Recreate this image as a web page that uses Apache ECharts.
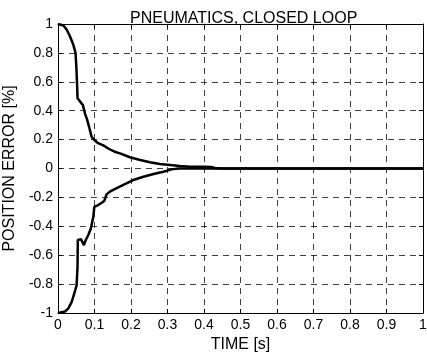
<!DOCTYPE html>
<html><head><meta charset="utf-8">
<script src="https://cdn.jsdelivr.net/npm/echarts@6/dist/echarts.min.js"></script>
<style>html,body{margin:0;padding:0;background:#fff}#c{width:427px;height:355px}</style>
</head><body><div id="c"></div>
<script>
var titleText = 'PNEUMATICS, CLOSED LOOP';
var xName = 'TIME [s]';
var yName = 'POSITION ERROR [%]';
var upperT = [0, 0.015, 0.024, 0.033, 0.042, 0.048, 0.050, 0.052, 0.0535, 0.059, 0.064, 0.068, 0.074, 0.08, 0.085, 0.092, 0.0995, 0.11, 0.124, 0.14, 0.155, 0.17, 0.197, 0.225, 0.252, 0.279, 0.307, 0.334, 0.362, 0.40, 0.42, 0.43, 0.45, 1.0];
var upperV = [1, 0.99, 0.96, 0.913, 0.856, 0.80, 0.717, 0.60, 0.487, 0.468, 0.475, 0.44, 0.38, 0.336, 0.29, 0.22, 0.197, 0.175, 0.16, 0.135, 0.116, 0.105, 0.078, 0.059, 0.043, 0.031, 0.024, 0.017, 0.012, 0.012, 0.01, 0.003, 0, 0];
var lowerT = [0, 0.019, 0.028, 0.0375, 0.0447, 0.051, 0.0535, 0.0543, 0.063, 0.071, 0.076, 0.083, 0.09, 0.0967, 0.0995, 0.11, 0.12, 0.127, 0.133, 0.142, 0.154, 0.165, 0.179, 0.206, 0.234, 0.262, 0.289, 0.311, 0.33, 1.0];
var lowerV = [-1, -0.99, -0.97, -0.923, -0.865, -0.807, -0.68, -0.495, -0.49, -0.53, -0.495, -0.46, -0.415, -0.334, -0.265, -0.253, -0.237, -0.223, -0.179, -0.16, -0.144, -0.13, -0.114, -0.08, -0.057, -0.038, -0.022, -0.006, 0, 0];

function pairs(t, v){ return t.map(function(x,i){return [x, v[i]];}); }
var font = 'Liberation Sans, Arial, sans-serif';
var chart = echarts.init(document.getElementById('c'), null, {renderer:'canvas'});
var gridLine = {show:true, lineStyle:{color:'#000', width:1, type:[6,5], opacity:0.75}};
var axisLine = {show:true, onZero:false, lineStyle:{color:'#000', width:1}};
var tick = {show:true, inside:true, length:4, lineStyle:{color:'#000'}};
chart.setOption({
  animation:false,
  title:{text:titleText, left:125, top:6, textStyle:{fontFamily:font, fontSize:16, fontWeight:'normal', color:'#000'}},
  grid:{left:58, right:4, top:24, bottom:42, containLabel:false, outerBoundsMode:'none'},
  xAxis:[
    {type:'value', min:0, max:1, interval:0.1, position:'bottom',
     name:xName, nameLocation:'middle', nameGap:24, nameTextStyle:{fontFamily:font, fontSize:16, color:'#000'},
     axisLine:axisLine, axisTick:tick, splitLine:gridLine,
     axisLabel:{fontFamily:font, fontSize:14, color:'#000', margin:5}},
    {type:'value', min:0, max:1, interval:0.1, position:'top',
     axisLine:axisLine, axisTick:tick, splitLine:{show:false}, axisLabel:{show:false}}
  ],
  yAxis:[
    {type:'value', min:-1, max:1, interval:0.2, position:'left',
     name:yName, nameLocation:'middle', nameGap:33, nameTextStyle:{fontFamily:font, fontSize:16, color:'#000'},
     axisLine:axisLine, axisTick:tick, splitLine:gridLine,
     axisLabel:{fontFamily:font, fontSize:14, color:'#000', margin:5}},
    {type:'value', min:-1, max:1, interval:0.2, position:'right',
     axisLine:axisLine, axisTick:tick, splitLine:{show:false}, axisLabel:{show:false}}
  ],
  series:[
    {type:'line', data:pairs(upperT, upperV), showSymbol:false, symbol:'none', lineStyle:{color:'#000', width:2.5}, z:5},
    {type:'line', data:pairs(lowerT, lowerV), showSymbol:false, symbol:'none', lineStyle:{color:'#000', width:2.5}, z:5}
  ]
});
</script></body></html>
